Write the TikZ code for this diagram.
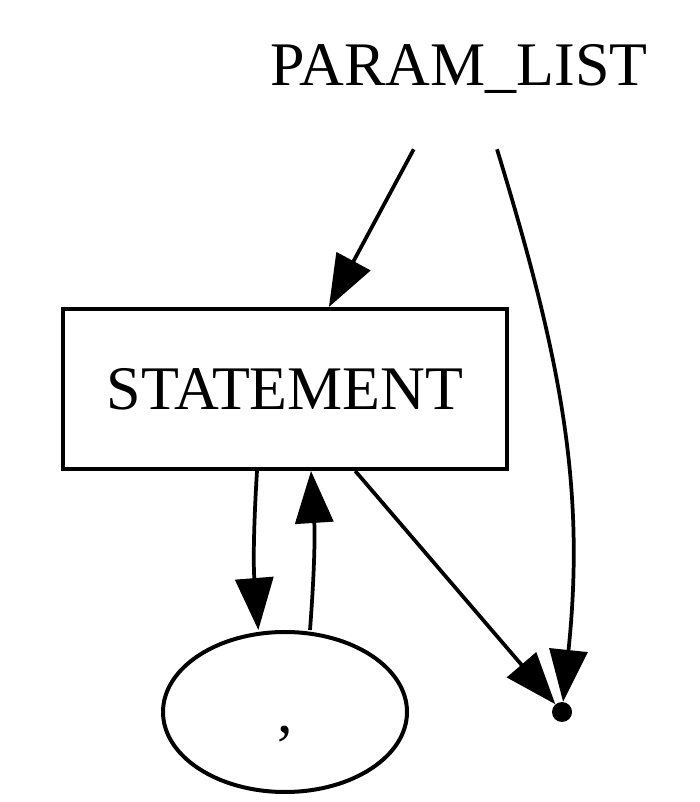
\documentclass[tikz,border=0pt]{standalone}
\usepackage{fontspec}
\setmainfont{Liberation Serif}
\usetikzlibrary{arrows.meta, shapes.geometric}

\begin{document}
\begin{tikzpicture}[x=0.75pt, y=0.75pt,
    every node/.style={font=\fontsize{46.5}{56}\selectfont, inner sep=0pt,
      text height=30.8pt, text depth=0pt},
    edge/.style={line width=2.8pt, -{Triangle[length=39pt, width=28.5pt]}},
    rulebox/.style={draw, line width=3pt, minimum width=333pt, minimum height=120pt},
    tokbox/.style={ellipse, draw, line width=3pt, minimum width=183pt, minimum height=120pt},
    endpt/.style={circle, fill, text height=0pt, minimum size=15pt}]
    \useasboundingbox (0,0) rectangle (699,802);

    \node[minimum width=300pt, minimum height=126pt] (plist) at (459,737) {PARAM\_LIST};
    \node[rulebox] (stmt) at (285,413) {STATEMENT};
    \node[tokbox] (comma) at (285,90) {,};
    \node[endpt] (dot) at (562,90) {};

    \draw[edge] (plist) -- (stmt);
    \draw[edge] ([xshift=28.5pt]plist.south) to[out=-73, in=84] (dot);
    \draw[edge] ([xshift=-21pt]stmt.south) to[bend right=4] ([xshift=-20pt]comma.north);
    \draw[edge] ([xshift=18.75pt]comma.north) to[bend right=4] ([xshift=19.5pt]stmt.south);
    \draw[edge] (stmt) -- (dot);
\end{tikzpicture}
\end{document}
